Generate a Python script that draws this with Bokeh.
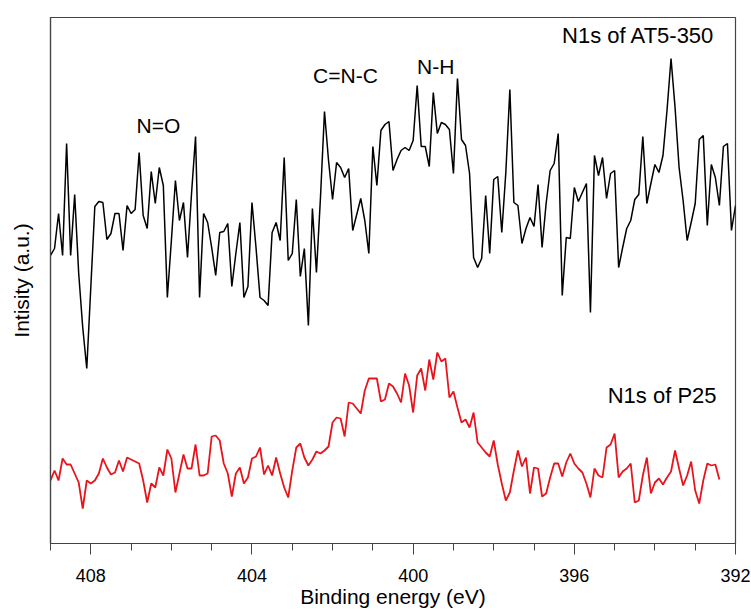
from bokeh.plotting import figure
from bokeh.models import Range1d, Label, FixedTicker
from bokeh.embed import file_html
from bokeh.resources import INLINE

# ---- data ----
E_START = 409.0
E_STEP = 0.1

at5_350 = [
    288, 295, 330, 288, 400, 288, 349, 270, 216, 175,
    256, 337, 342, 341, 304, 310, 330, 330, 293, 338,
    330, 334, 391, 328, 315, 372, 340, 376, 358, 246,
    303, 363, 323, 341, 286, 350, 407, 246, 330, 321,
    296, 268, 311, 312, 320, 257, 290, 321, 246, 257,
    341, 296, 246, 243, 238, 311, 321, 303,
    386, 283, 290, 344, 267, 295, 218, 335, 271, 346,
    432, 383, 344, 381, 376, 366, 375, 313, 329, 345,
    323, 290, 397, 358, 413, 419, 422, 373, 384, 393,
    396, 393, 403, 458, 397, 397, 377, 451, 410, 421,
    419, 414, 370, 465, 404, 398, 370, 286, 276, 285,
    348, 290, 364, 367,
    311, 371, 454, 341, 338, 300, 315, 326, 317, 359,
    296, 340, 373, 380, 410, 248, 306, 305, 356, 342,
    351, 360, 231, 388, 368, 386, 345, 370, 373, 276,
    296, 315, 323, 344, 349, 407, 340, 360, 379, 371,
    388, 433, 485, 436, 376, 343, 303, 321, 340, 404,
    408, 318, 379, 366, 338, 397, 400, 313, 338,
]

p25 = [
    63, 73, 63, 85, 79, 79, 70, 61, 35, 63,
    60, 63, 70, 85, 76, 69, 71, 83, 72, 86,
    84, 82, 80, 63, 41, 60, 56, 76, 68, 94,
    85, 51, 70, 89, 75, 75, 99, 68, 68, 70,
    107, 108, 103, 80, 70, 47, 70, 76, 60, 66,
    85, 87, 96, 69, 78, 68, 86, 70,
    56, 46, 73, 96, 100, 86, 78, 84, 92, 90,
    93, 97, 121, 126, 125, 107, 141, 140, 135, 130,
    153, 165, 165, 165, 142, 144, 160, 157, 150, 141,
    170, 158, 131, 168, 175, 153, 184, 164, 191, 182,
    185, 146, 152, 136, 121, 124, 116, 131, 101, 96,
    91, 87, 103, 79,
    60, 43, 51, 73, 93, 77, 86, 50, 76, 75,
    47, 50, 66, 80, 80, 67, 81, 90, 80, 75,
    71, 60, 46, 75, 68, 66, 96, 99, 110, 66,
    72, 75, 80, 41, 43, 68, 86, 50, 61, 65,
    59, 66, 72, 93, 75, 58, 68, 82, 53, 40,
    63, 80, 78, 79, 64,
]

energy_at5 = [round(E_START - E_STEP * i, 1) for i in range(len(at5_350))]
energy_p25 = [round(E_START - E_STEP * i, 1) for i in range(len(p25))]

x_ticks = [408, 404, 400, 396, 392]
x_minor = [409, 408, 407, 406, 405, 404, 403, 402, 401, 400, 399, 398,
           397, 396, 395, 394, 393, 392]

peak_labels = ["N=O", "C=N-C", "N-H"]
peak_x = [406.32, 401.68, 399.44]
peak_y = [418, 468, 477]

series_labels = ["N1s of AT5-350", "N1s of P25"]
series_label_x = [392.52, 392.47]
series_label_y = [508, 148]

FONT = "Liberation Sans"

p = figure(width=751, height=613, output_backend="svg", toolbar_location=None,
           x_range=Range1d(409, 392), y_range=Range1d(0, 526),
           min_border_left=50, min_border_right=16, min_border_top=17,
           min_border_bottom=70)

p.line(energy_at5, at5_350, line_color="black", line_width=1.5)
p.line(energy_p25, p25, line_color="#e8141c", line_width=1.8)

for t, x, y in zip(peak_labels, peak_x, peak_y):
    p.add_layout(Label(x=x, y=y, text=t, text_align="center",
                       text_baseline="middle", text_font=FONT,
                       text_font_size="21px", text_color="black"))
for t, x, y in zip(series_labels, series_label_x, series_label_y):
    p.add_layout(Label(x=x, y=y, text=t, text_align="right",
                       text_baseline="middle", text_font=FONT,
                       text_font_size="22px", text_color="black"))

p.xgrid.grid_line_color = None
p.ygrid.grid_line_color = None
p.outline_line_color = "#444444"
p.outline_line_width = 1.2
p.background_fill_color = "white"
p.border_fill_color = "white"

xa = p.xaxis[0]
xa.ticker = FixedTicker(ticks=x_ticks, minor_ticks=x_minor)
xa.axis_label = "Binding energy (eV)"
xa.axis_label_text_font = FONT
xa.axis_label_text_font_size = "21px"
xa.axis_label_text_font_style = "normal"
xa.axis_label_text_color = "black"
xa.axis_label_standoff = 0
xa.major_label_text_font = FONT
xa.major_label_text_font_size = "18px"
xa.major_label_text_color = "black"
xa.major_label_standoff = 14
xa.major_tick_out = 11
xa.major_tick_in = 0
xa.minor_tick_out = 7
xa.minor_tick_in = 0
xa.axis_line_color = "#444444"
xa.major_tick_line_color = "#444444"
xa.minor_tick_line_color = "#444444"
xa.axis_line_width = 1.2

ya = p.yaxis[0]
ya.ticker = FixedTicker(ticks=[])
ya.axis_label = "Intisity (a.u.)"
ya.axis_label_text_font = FONT
ya.axis_label_text_font_size = "21px"
ya.axis_label_text_font_style = "normal"
ya.axis_label_text_color = "black"
ya.axis_label_standoff = 18
ya.major_label_text_font_size = "0px"
ya.major_tick_line_color = None
ya.minor_tick_line_color = None
ya.axis_line_color = "#444444"
ya.axis_line_width = 1.2

open("out.html", "w").write(file_html(p, INLINE))
